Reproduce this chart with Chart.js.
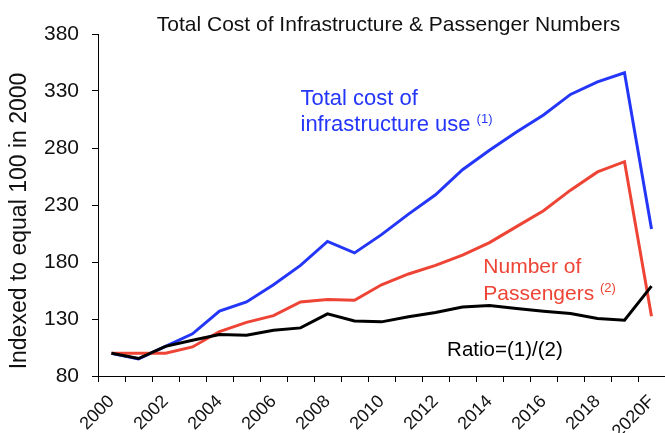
<!DOCTYPE html>
<html>
<head>
<meta charset="utf-8">
<script src="https://cdn.jsdelivr.net/npm/chart.js@4/dist/chart.umd.min.js"></script>
<style>
  html, body { margin: 0; padding: 0; background: #fff; }
  #wrap { width: 665px; height: 433px; }
</style>
</head>
<body>
<div id="wrap"><canvas id="chart"></canvas></div>
<script>
const years = ['2000', '2001', '2002', '2003', '2004', '2005', '2006', '2007', '2008', '2009', '2010',
  '2011', '2012', '2013', '2014', '2015', '2016', '2017', '2018', '2019', '2020F'];
const totalCost = [100, 95, 106, 117, 137, 145, 160, 177, 198, 188, 204,
  222, 239, 261, 278, 294, 309, 327, 338, 346, 209];
const passengers = [100, 100, 100, 105.5, 119, 127, 133, 145, 147, 146.5, 160,
  169.5, 177, 186, 197, 211, 225, 243, 259, 268, 132.5];
const ratio = [100, 95.3, 106, 111.4, 116.3, 115.8, 120.2, 122.2, 134.5, 128.3, 127.5,
  131.9, 135.7, 140.6, 141.8, 139.2, 136.9, 134.8, 130.4, 129, 158.8];
const yTicks = [80, 130, 180, 230, 280, 330, 380];

const FONT = '"Liberation Sans", Arial, sans-serif';
const BLUE = '#2436f8';
const RED = '#ee4435';

// title, axis title and series notes, anchored to the scales
const notes = {
  id: 'notes',
  afterDraw(chart) {
    const { ctx, chartArea, scales } = chart;
    const x = scales.x, y = scales.y;
    ctx.save();
    ctx.textBaseline = 'alphabetic';
    ctx.textAlign = 'center';
    ctx.fillStyle = '#111';
    ctx.font = '21px ' + FONT;
    ctx.fillText('Total Cost of Infrastructure & Passenger Numbers', (chartArea.left + chartArea.right) / 2 + 7, 31);

    // y axis title
    ctx.save();
    ctx.translate(20, (chartArea.top + chartArea.bottom) / 2 + 16);
    ctx.rotate(-Math.PI / 2);
    ctx.textBaseline = 'middle';
    ctx.font = '23px ' + FONT;
    ctx.fillText('Indexed to equal 100 in 2000', 0, 0);
    ctx.restore();

    ctx.textAlign = 'left';
    const line = (txt, sup, xi, yv, color, size) => {
      const px = x.getPixelForValue(xi), py = y.getPixelForValue(yv);
      ctx.fillStyle = color;
      ctx.font = size + 'px ' + FONT;
      ctx.fillText(txt, px, py);
      if (sup) {
        const w = ctx.measureText(txt + ' ').width;
        ctx.font = '13px ' + FONT;
        ctx.fillText(sup, px + w, py - 8);
      }
    };
    line('Total cost of', null, 7, 318, BLUE, 22);
    line('infrastructure use', '(1)', 7, 295, BLUE, 22);
    line('Number of', null, 13.77, 170, RED, 21);
    line('Passengers', '(2)', 13.77, 146.5, RED, 21);
    line('Ratio=(1)/(2)', null, 12.43, 97.3, '#000', 20.5);
    ctx.restore();
  }
};

new Chart(document.getElementById('chart'), {
  type: 'line',
  data: {
    labels: years,
    datasets: [
      { label: 'Ratio=(1)/(2)', data: ratio, borderColor: '#000' },
      { label: 'Number of Passengers', data: passengers, borderColor: RED },
      { label: 'Total cost of infrastructure use', data: totalCost, borderColor: BLUE }
    ]
  },
  options: {
    responsive: true,
    maintainAspectRatio: false,
    animation: false,
    layout: { padding: { top: 34, right: 0, left: 0, bottom: 0 } },
    elements: {
      point: { radius: 0 },
      line: { borderWidth: 3, tension: 0, fill: false }
    },
    plugins: {
      legend: { display: false },
      title: { display: false },
      tooltip: { enabled: false }
    },
    scales: {
      x: {
        offset: true,
        afterFit: s => { s.height = 57; s.paddingLeft = 0; s.paddingRight = 0; },
        grid: { offset: true, drawOnChartArea: false, drawTicks: true, tickLength: 6, color: '#000' },
        border: { color: '#000', width: 1 },
        ticks: {
          autoSkip: false,
          minRotation: 45,
          maxRotation: 45,
          padding: 9,
          color: '#111',
          font: { family: FONT, size: 18 },
          callback: (v, i) => (i % 2 === 0 ? years[i] : '')
        }
      },
      y: {
        min: yTicks[0],
        max: yTicks[yTicks.length - 1],
        afterFit: s => { s.width = 98; },
        afterBuildTicks: s => { s.ticks = yTicks.map(v => ({ value: v })); },
        grid: { drawOnChartArea: false, drawTicks: true, tickLength: 6, color: '#000' },
        border: { color: '#000', width: 1 },
        ticks: {
          padding: 13,
          color: '#111',
          font: { family: FONT, size: 21 }
        }
      }
    }
  },
  plugins: [notes]
});
</script>
</body>
</html>
